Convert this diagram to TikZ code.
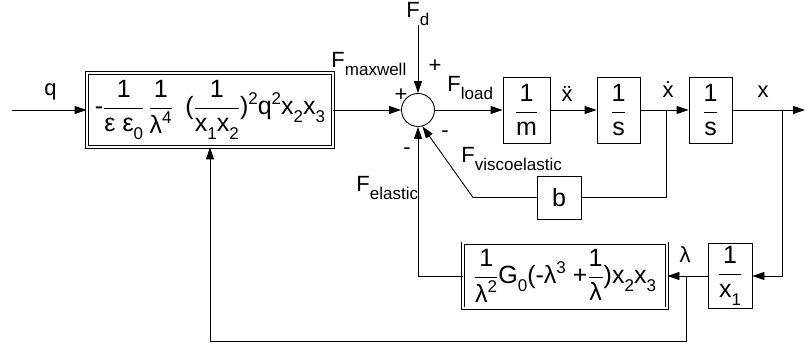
\documentclass[tikz,border=0pt]{standalone}
\usepackage{amsmath}
\usepackage{fontspec}
\setmainfont{Liberation Sans}
\usetikzlibrary{arrows.meta,calc}

\newcommand{\fr}[2]{$\dfrac{\mbox{#1}}{\mbox{#2}}$}
\newcommand{\lo}[1]{\raisebox{-8pt}{\fontsize{17}{17}\selectfont #1}}
\newcommand{\hi}[1]{\raisebox{10pt}{\fontsize{17}{17}\selectfont #1}}

\begin{document}
\begin{tikzpicture}[x=1pt,y=-1pt,line width=.9pt,>={Triangle[length=12pt,width=8pt]},
  blk/.style={draw,inner sep=0pt,font=\fontsize{25}{28}\selectfont},
  dblk/.style={blk,double,double distance=2pt},
  lbl/.style={font=\fontsize{22}{24}\selectfont,inner sep=0pt}]
  \useasboundingbox (0,0) rectangle (806,347);

  % forward path
  \node[dblk,minimum width=246,minimum height=74] (maxw) at (210,110)
    {-\fr{1}{ε ε\lo{0}}\,\fr{1}{λ\hi{4}}\enspace(\fr{1}{x\lo{1}x\lo{2}})\hi{2}q\hi{2}x\lo{2}x\lo{3}};
  \node[draw,circle,minimum size=33,inner sep=0pt] (sum) at (418,110) {};
  \node[blk,minimum width=47,minimum height=66] (mass) at (526.5,110) {\fr{1}{m}};
  \node[blk,minimum width=43,minimum height=66] (int1) at (618.5,110) {\fr{1}{s}};
  \node[blk,minimum width=43,minimum height=66] (int2) at (710.5,110) {\fr{1}{s}};

  % feedback path
  \node[blk,minimum width=44,minimum height=43] (damp) at (559,197.5) {b};
  \node[dblk,minimum width=204,minimum height=65] (elas) at (565,276)
    {\fr{1}{λ\hi{2}}G\lo{0}(-λ\hi{3} +\fr{1}{λ})x\lo{2}x\lo{3}};
  \node[blk,minimum width=44,minimum height=65] (inv) at (730,276) {\fr{1}{x\lo{1}}};

  \coordinate (in) at (12,110);
  \coordinate (top) at (418,25);
  \coordinate (out) at (805,110);
  \coordinate (velbr) at (666,110);
  \coordinate (posbr) at (782,110);
  \coordinate (bend) at (473,197.5);
  \coordinate (lambr) at (686,276);
  \coordinate (low) at (686,341);

  \draw[->] (in) -- (maxw);
  \draw[->] (maxw) -- (sum);
  \draw[->] (top) -- (sum);
  \draw[->] (sum) -- (mass);
  \draw[->] (mass) -- (int1);
  \draw[->] (int1) -- (int2);
  \draw[->] (int2) -- (out);
  \draw (velbr) |- (damp);
  \draw[->] (damp) -- (bend) -- (sum.-75);
  \draw[->] (elas) -| (sum);
  \draw[->] (posbr) |- (inv);
  \draw[->] (inv) -- (elas);
  \draw[->] (lambr) -- (low) -| (maxw);

  % labels
  \node[lbl,anchor=base west] (qlbl) at (44,96) {q};
  \node[lbl,anchor=base west] (Fmax) at (331,68) {F\lo{maxwell}};
  \node[lbl,anchor=base west] (Fd) at (406,18) {F\lo{d}};
  \node[lbl,anchor=base west] (Fload) at (447,92) {F\lo{load}};
  \node[lbl,anchor=base west] (Fvis) at (461,163) {F\lo{viscoelastic}};
  \node[lbl,anchor=base west] (Fel) at (356,192) {F\lo{elastic}};
  \node[lbl,anchor=base] (acclbl) at (567,102) {\"x};
  \node[lbl,anchor=base] (vellbl) at (668,98) {\.x};
  \node[lbl,anchor=base] (poslbl) at (763,98) {x};
  \node[lbl,anchor=base] (lamlbl) at (685,263) {λ};
  \node[lbl] (plusd) at (435,66) {+};
  \node[lbl] (plusm) at (401,95) {+};
  \node[lbl] (minv) at (445,134) {-};
  \node[lbl] (mine) at (407,151) {-};
\end{tikzpicture}
\end{document}
